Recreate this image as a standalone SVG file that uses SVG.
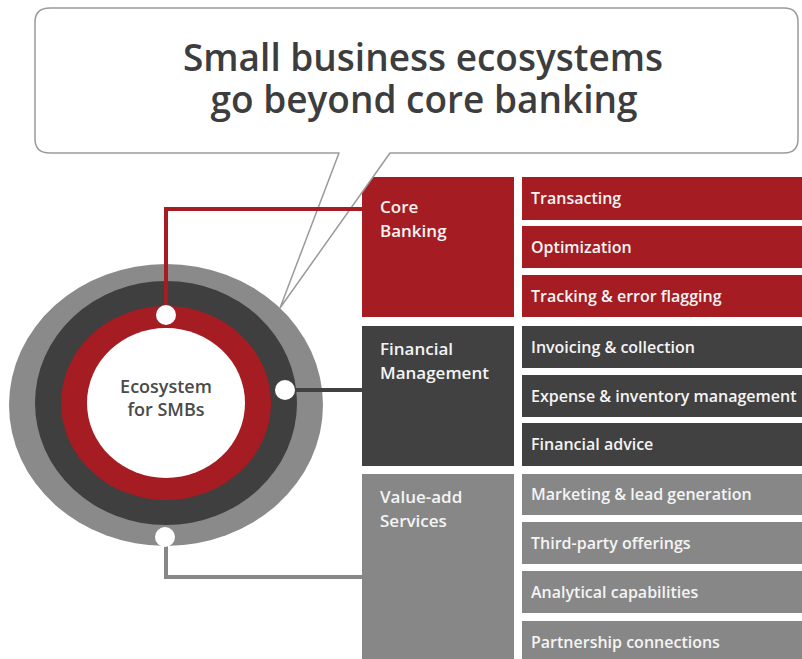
<svg xmlns="http://www.w3.org/2000/svg" width="802" height="659" viewBox="0 0 802 659">
<style>
.title{font-family:"Open Sans","Noto Sans",sans-serif;font-size:37px;font-weight:600;fill:#3d3d3d;text-anchor:middle}
.ctr{font-family:"Open Sans","Noto Sans",sans-serif;font-size:18px;font-weight:600;fill:#4a4a4a;text-anchor:middle}
.lbl{font-family:"Open Sans","Noto Sans",sans-serif;font-size:17px;font-weight:600;fill:#f4f4f4}
.item{font-family:"Open Sans","Noto Sans",sans-serif;font-size:16px;font-weight:600;fill:#f4f4f4}
.red{fill:#a51c23}
.dark{fill:#414142}
.gray{fill:#878787}
.dot{fill:#ffffff}
</style>
<rect width="802" height="659" fill="#ffffff"/>
<g id="rings">
<ellipse cx="166" cy="405" rx="157" ry="141" fill="#8a8a8a"/>
<ellipse cx="166" cy="403" rx="131" ry="122" fill="#3f3f40"/>
<ellipse cx="166" cy="403" rx="105" ry="97" fill="#a51c23"/>
<ellipse cx="166" cy="403" rx="79" ry="75" fill="#ffffff"/>
<text class="ctr" x="166" y="393">Ecosystem</text>
<text class="ctr" x="166" y="416">for SMBs</text>
</g>
<g id="core-banking">
<rect class="red" x="362" y="177" width="152" height="140"/>
<text class="lbl" x="380" y="213">Core</text>
<text class="lbl" x="380" y="237">Banking</text>
</g>
<g id="financial-management">
<rect class="dark" x="362" y="326" width="152" height="140"/>
<text class="lbl" x="380" y="355">Financial</text>
<text class="lbl" x="380" y="379">Management</text>
</g>
<g id="value-add">
<rect class="gray" x="362" y="474" width="152" height="190"/>
<text class="lbl" x="380" y="503">Value-add</text>
<text class="lbl" x="380" y="527">Services</text>
</g>
<g id="transacting"><rect class="red" x="522" y="177" width="285" height="43"/><text class="item" x="531" y="204">Transacting</text></g>
<g id="optimization"><rect class="red" x="522" y="226" width="285" height="42"/><text class="item" x="531" y="253">Optimization</text></g>
<g id="tracking"><rect class="red" x="522" y="275" width="285" height="42"/><text class="item" x="531" y="302">Tracking &amp; error flagging</text></g>
<g id="invoicing"><rect class="dark" x="522" y="326" width="285" height="42"/><text class="item" x="531" y="353">Invoicing &amp; collection</text></g>
<g id="expense"><rect class="dark" x="522" y="375" width="285" height="42"/><text class="item" x="531" y="402">Expense &amp; inventory management</text></g>
<g id="advice"><rect class="dark" x="522" y="423" width="285" height="43"/><text class="item" x="531" y="450">Financial advice</text></g>
<g id="marketing"><rect class="gray" x="522" y="474" width="285" height="41"/><text class="item" x="531" y="500">Marketing &amp; lead generation</text></g>
<g id="third-party"><rect class="gray" x="522" y="522" width="285" height="42"/><text class="item" x="531" y="549">Third-party offerings</text></g>
<g id="analytical"><rect class="gray" x="522" y="571" width="285" height="42"/><text class="item" x="531" y="598">Analytical capabilities</text></g>
<g id="partnership"><rect class="gray" x="522" y="621" width="285" height="45"/><text class="item" x="531" y="648">Partnership connections</text></g>
<g id="callout">
<path d="M50,8 H784 Q798,8 798,22 V139 Q798,153 784,153 H390 L280,308 L339,153 H50 Q35,153 35,139 V22 Q35,8 50,8 Z" fill="#ffffff" stroke="#9a9a9a" stroke-width="1.5" stroke-linejoin="round"/>
<text class="title" x="423" y="71">Small business ecosystems</text>
<text class="title" x="424" y="113">go beyond core banking</text>
</g>
<g id="connectors" fill="none" stroke-width="4">
<path d="M166,315 V209 H362" stroke="#a51c23"/>
<path d="M285,390 H362" stroke="#414142"/>
<path d="M166,537 V577 H362" stroke="#878787"/>
</g>
<g id="dots">
<circle class="dot" cx="166" cy="315" r="10"/>
<circle class="dot" cx="285" cy="390" r="10"/>
<circle class="dot" cx="165" cy="537" r="10"/>
</g>
</svg>
